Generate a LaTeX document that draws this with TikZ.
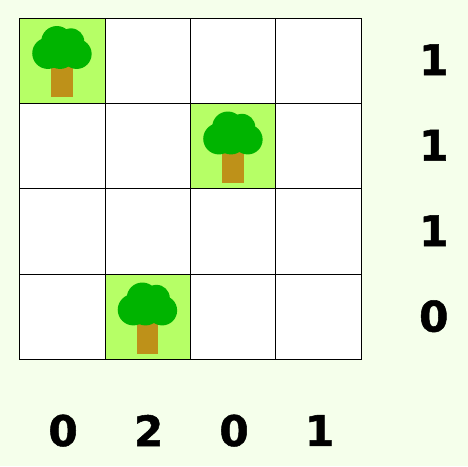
\documentclass[tikz,border=0pt]{standalone}
\usepackage{fontspec}
\setmainfont{DejaVu Sans}[BoldFeatures={FakeBold=1.2}]
\definecolor{pagebg}{HTML}{F5FFEB}
\definecolor{cellgreen}{HTML}{B6FF66}
\definecolor{crown}{HTML}{00B400}
\definecolor{trunk}{HTML}{BE9119}
\tikzset{
  hint/.style={font=\bfseries\fontsize{24}{24}\selectfont,inner sep=0pt},
  crownpart/.style={fill=crown,draw=none},
}
\newcommand{\treecell}[2]{
  \fill[cellgreen] (#1,#2) rectangle ++(1,1);
  \fill[trunk] (#1+.372,#2+.072) rectangle (#1+.622,#2+.48);
  \fill[crownpart] (#1+.332,#2+.587) circle (.183);
  \fill[crownpart] (#1+.669,#2+.579) circle (.175);
  \fill[crownpart] (#1+.437,#2+.723) circle (.183);
  \fill[crownpart] (#1+.602,#2+.723) circle (.156);
  \fill[crownpart] (#1+.474,#2+.587) circle (.183);
}
\begin{document}
\begin{tikzpicture}[x=1.71cm,y=1.71cm]
  \fill[pagebg] (-.228,-1.2456) rectangle (5.246,4.2105);
  \useasboundingbox (-.228,-1.2456) rectangle (5.246,4.2105);
  \fill[white] (0,0) rectangle (4,4);
  \treecell{0}{3}
  \treecell{2}{2}
  \treecell{1}{0}
  \draw[line width=.55pt,step=1] (0,0) grid (4,4);
  \foreach \val [count=\i from 0] in {0,2,0,1}
    \node[hint] (col\i) at (\i+.51,-.826) {\val};
  \foreach \val [count=\i from 0] in {1,1,1,0}
    \node[hint] (row\i) at (4.846,3.512-\i) {\val};
\end{tikzpicture}
\end{document}
